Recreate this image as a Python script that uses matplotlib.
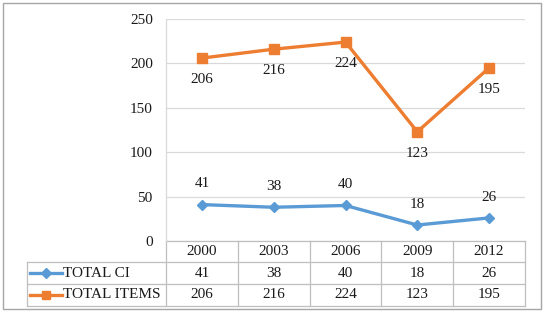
import matplotlib
matplotlib.use("Agg")
import matplotlib.pyplot as plt
from matplotlib.transforms import blended_transform_factory
from matplotlib.lines import Line2D
from matplotlib.patches import Rectangle

years = ["2000", "2003", "2006", "2009", "2012"]
series_names = ["TOTAL CI", "TOTAL ITEMS"]
total_ci = [41, 38, 40, 18, 26]
total_items = [206, 216, 224, 123, 195]
yticks = [0, 50, 100, 150, 200, 250]

blue = "#5B9BD5"
orange = "#ED7D31"
grid_c = "#D9D9D9"
tab_c = "#BFBFBF"
txt_c = "#1a1a1a"
fs = 11

plt.rcParams['font.family'] = ['Liberation Serif', 'DejaVu Serif']

W, H = 543, 311
fig = plt.figure(figsize=(W / 100, H / 100), dpi=100)
ax = fig.add_axes([166 / W, 1 - 241 / H, (525 - 166) / W, (241 - 19) / H])

x = list(range(len(years)))
ax.plot(x, total_items, color=orange, lw=2.4, marker="s", ms=6.5, zorder=3)
ax.plot(x, total_ci, color=blue, lw=2.4, marker="D", ms=5.5, zorder=3)

for xi, v in zip(x, total_items):
    ax.annotate(str(v), (xi, v), xytext=(0, -15.5), textcoords="offset points",
                ha="center", va="center", fontsize=fs, color=txt_c)
for xi, v in zip(x, total_ci):
    ax.annotate(str(v), (xi, v), xytext=(0, 15), textcoords="offset points",
                ha="center", va="center", fontsize=fs, color=txt_c)

ax.set_xlim(-0.5, len(years) - 0.5)
ax.set_ylim(0, 250)
ax.set_yticks(yticks)
ax.set_yticklabels([str(t) for t in yticks], fontsize=fs, color=txt_c)
ax.tick_params(axis="y", length=0, pad=9.5)
ax.set_xticks([])
ax.grid(axis="y", color=grid_c, lw=0.9)
ax.set_axisbelow(True)
for s in ["top", "right", "bottom"]:
    ax.spines[s].set_visible(False)
ax.spines["left"].set_color(grid_c)
ax.spines["left"].set_linewidth(0.9)

# data table below the axes
tr = blended_transform_factory(ax.transData, ax.transAxes)
rows_y = [0, -0.0959, -0.195, -0.2914]
xl = -0.387
kw = dict(color=tab_c, lw=0.9, clip_on=False)
ax.plot([-0.5, len(years) - 0.5], [rows_y[0]] * 2, transform=tr, **kw)
for yy in rows_y[1:]:
    ax.plot([xl, 1.0], [yy] * 2, transform=ax.transAxes, **kw)
ax.plot([xl, xl], [rows_y[1], rows_y[3]], transform=ax.transAxes, **kw)
for i in range(len(years) + 1):
    ax.plot([i - 0.5, i - 0.5], [rows_y[0], rows_y[3]], transform=tr, **kw)

def mid(a, b):
    return (a + b) / 2

for i, yv in enumerate(years):
    ax.text(i, mid(rows_y[0], rows_y[1]), yv, transform=tr, ha="center",
            va="center", fontsize=fs, color=txt_c)
for r, (name, vals, col, mk) in enumerate([
        (series_names[0], total_ci, blue, "D"),
        (series_names[1], total_items, orange, "s")]):
    yc = mid(rows_y[r + 1], rows_y[r + 2])
    for i, v in enumerate(vals):
        ax.text(i, yc, str(v), transform=tr, ha="center", va="center",
                fontsize=fs, color=txt_c)
    x0 = (30 - 166) / 359
    x1 = (62 - 166) / 359
    ax.add_line(Line2D([x0, x1], [yc, yc], transform=ax.transAxes, color=col,
                       lw=2.4, clip_on=False))
    ax.add_line(Line2D([mid(x0, x1)], [yc], transform=ax.transAxes, color=col,
                       marker=mk, ms=5 if mk == "D" else 6, lw=0, clip_on=False))
    ax.text((63 - 166) / 359, yc, name, transform=ax.transAxes, ha="left",
            va="center", fontsize=fs, color=txt_c)

# outer border
fig.add_artist(Rectangle((3 / W, 1 - 309 / H), (541 - 3) / W, (309 - 3) / H,
                         transform=fig.transFigure, fill=False,
                         edgecolor="#A6A6A6", lw=1.0))

fig.savefig("out.png", dpi=100)
